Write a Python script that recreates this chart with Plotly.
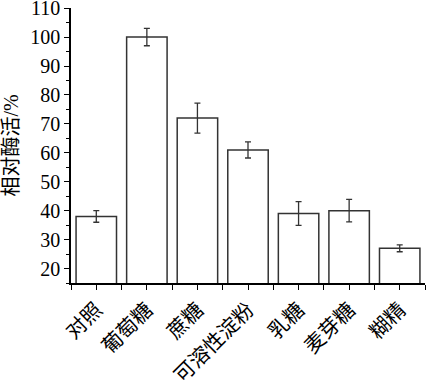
import plotly.graph_objects as go

categories = ["对照", "葡萄糖", "蔗糖", "可溶性淀粉", "乳糖", "麦芽糖", "糊精"]
values = [38, 100, 72, 61, 39, 40, 27]
errors = [2.0, 3.0, 5.2, 2.8, 4.1, 3.9, 1.2]
y_title = "相对酶活/%"

xpos = list(range(len(categories)))
font_family = "'Liberation Serif', 'Times New Roman', 'Noto Sans CJK SC', serif"

fig = go.Figure(
    go.Bar(
        x=xpos,
        y=values,
        width=0.8,
        marker=dict(color="white", line=dict(color="#333333", width=1.5)),
        error_y=dict(type="data", array=errors, color="#333333", thickness=1.3, width=3),
    )
)

fig.update_layout(
    width=426,
    height=382,
    margin=dict(l=71, r=1, t=8, b=99),
    plot_bgcolor="white",
    paper_bgcolor="white",
    showlegend=False,
    font=dict(family=font_family, color="black"),
)

fig.update_xaxes(
    range=[-0.5, 6.5],
    tickmode="array",
    tickvals=xpos,
    ticktext=categories,
    tickangle=-45,
    tickfont=dict(size=20.5, family=font_family),
    showline=True,
    linecolor="black",
    linewidth=1.5,
    ticks="outside",
    ticklen=5,
    tickcolor="black",
    showgrid=False,
    zeroline=False,
    minor=dict(tickmode="linear", tick0=-0.5, dtick=1, ticks="outside", ticklen=5, tickcolor="black"),
    automargin=False,
)

fig.update_yaxes(
    range=[15, 110.05],
    tick0=20,
    dtick=10,
    tickfont=dict(size=20, family=font_family),
    ticklabeloverflow="allow",
    showline=True,
    linecolor="black",
    linewidth=1.5,
    ticks="outside",
    ticklen=5,
    tickcolor="black",
    showgrid=False,
    zeroline=False,
    minor=dict(tick0=15, dtick=5, ticks="outside", ticklen=3, tickcolor="black"),
    title=dict(text=y_title, font=dict(size=20, family=font_family), standoff=6),
    automargin=False,
)

fig.write_html(
    "out.html",
    config={"displayModeBar": False},
    post_script="document.body.style.margin='0';",
)
